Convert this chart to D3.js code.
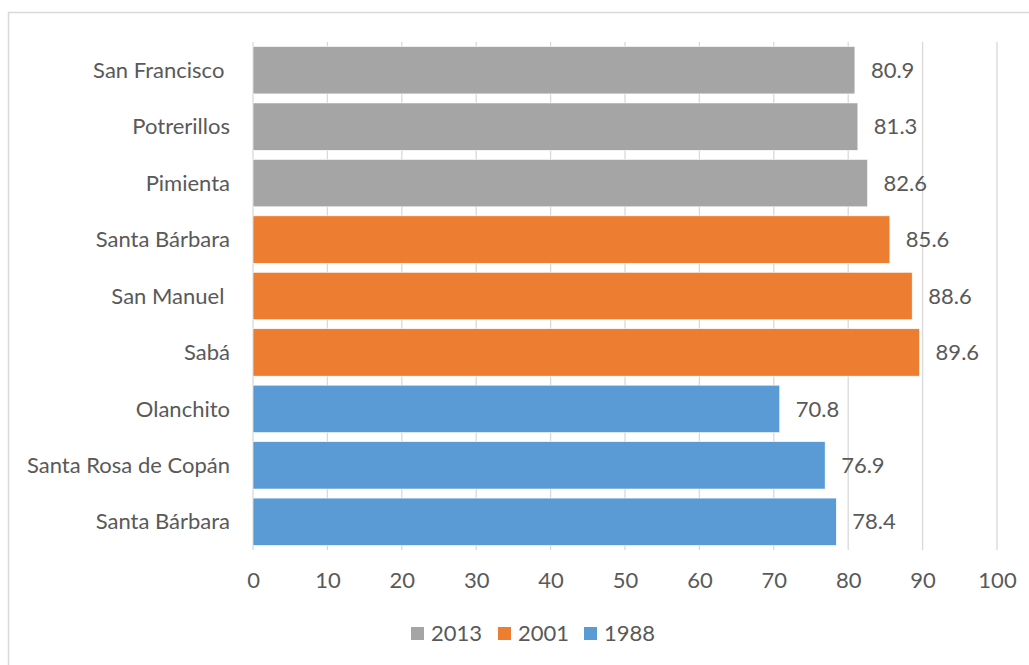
<!DOCTYPE html>
<html><head><meta charset="utf-8">
<script src="https://cdn.jsdelivr.net/npm/d3@7"></script>
<style>
html,body{margin:0;padding:0;background:#fff;}
svg{display:block;}
text{font-family:"Lato","Open Sans",sans-serif;fill:#595959;}
</style></head>
<body>
<svg id="chart" width="1029" height="665"></svg>
<script>
const categories = ["San Francisco ", "Potrerillos", "Pimienta", "Santa Bárbara", "San Manuel ", "Sabá", "Olanchito", "Santa Rosa de Copán", "Santa Bárbara"];
const values = [80.9, 81.3, 82.6, 85.6, 88.6, 89.6, 70.8, 76.9, 78.4];
const groups = ["2013", "2013", "2013", "2001", "2001", "2001", "1988", "1988", "1988"];
const legendSeries = ["2013", "2001", "1988"];
const seriesColors = ["#A5A5A5", "#ED7D31", "#5B9BD5"];
const xTicks = [0, 10, 20, 30, 40, 50, 60, 70, 80, 90, 100];

const FS = 22;
const svg = d3.select("#chart");
const color = d3.scaleOrdinal().domain(legendSeries).range(seriesColors);

// outer border
svg.append("rect").attr("x", 8.5).attr("y", 12.5).attr("width", 1100).attr("height", 700)
  .attr("fill", "none").attr("stroke", "#D9D9D9").attr("stroke-width", 1.5);

const x = d3.scaleLinear().domain([0, 100]).range([253, 997]);
const y = d3.scaleBand().domain(d3.range(categories.length)).range([42, 550]).paddingInner(0.16).paddingOuter(0.08);

// gridlines
svg.append("g").selectAll("line").data(xTicks).join("line")
  .attr("x1", d => x(d)).attr("x2", d => x(d))
  .attr("y1", 42).attr("y2", 550)
  .attr("stroke", "#D9D9D9").attr("stroke-width", 1.3);

// bars
svg.append("g").selectAll("rect").data(values).join("rect")
  .attr("x", x(0)).attr("y", (d, i) => y(i))
  .attr("width", d => x(d) - x(0)).attr("height", y.bandwidth())
  .attr("fill", (d, i) => color(groups[i]))
  .attr("stroke", "#fff").attr("stroke-width", 0.6);

// value labels
svg.append("g").selectAll("text").data(values).join("text")
  .attr("x", d => x(d) + 16).attr("y", (d, i) => y(i) + y.bandwidth() / 2)
  .attr("dy", "0.35em").attr("font-size", FS).text(d => d.toFixed(1));

// category labels
svg.append("g").selectAll("text").data(categories).join("text")
  .attr("x", 230).attr("y", (d, i) => y(i) + y.bandwidth() / 2)
  .attr("dy", "0.35em").attr("text-anchor", "end").attr("font-size", FS)
  .attr("xml:space", "preserve").style("white-space", "pre").text(d => d);

// x axis
const xAxis = d3.axisBottom(x).tickValues(xTicks).tickSize(0).tickPadding(0).tickFormat(d3.format("d"));
const gx = svg.append("g").attr("transform", "translate(0,588)").call(xAxis);
gx.select(".domain").remove();
gx.selectAll("text").attr("font-size", FS).attr("fill", "#595959").attr("dy", 0)
  .style("font-family", "Lato, 'Open Sans', sans-serif");

// legend
const legendX = [411, 498, 584];
const lg = svg.append("g").selectAll("g").data(legendSeries).join("g")
  .attr("transform", (d, i) => `translate(${legendX[i]},627)`);
lg.append("rect").attr("width", 13).attr("height", 13).attr("fill", d => color(d));
lg.append("text").attr("x", 20).attr("y", 14).attr("font-size", FS).text(d => d);
</script>
</body></html>
